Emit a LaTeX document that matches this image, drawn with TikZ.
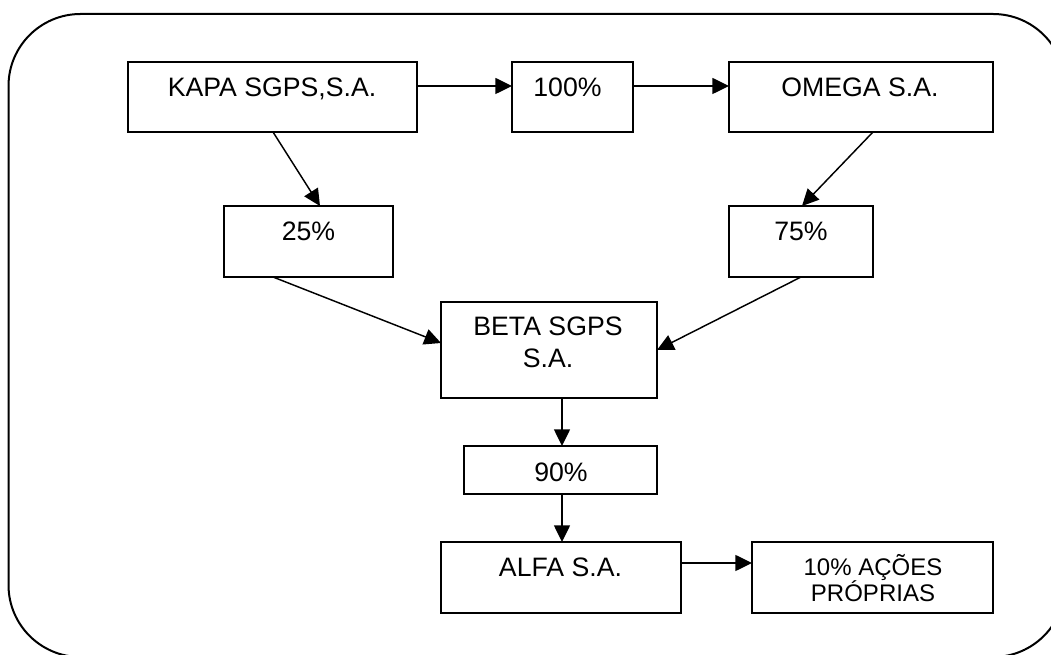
\documentclass[tikz,border=0pt]{standalone}
\usepackage{fontspec}
\setmainfont{Liberation Sans}
\usetikzlibrary{arrows.meta,calc}
\begin{document}
\begin{tikzpicture}[x=0.75pt,y=-0.75pt,
  box/.style={draw,line width=1.4pt,inner sep=0pt,outer sep=0pt},
  lbl/.style={anchor=base,inner sep=0pt,font=\fontsize{20}{24}\selectfont,align=center},
  slbl/.style={anchor=base,inner sep=0pt,font=\fontsize{18}{20}\selectfont,align=center},
  arr/.style={line width=1.1pt,-{Triangle[length=12.5pt,width=12pt]}},
  frame/.style={draw,line width=1.5pt,rounded corners=54pt}]
\useasboundingbox (0,0) rectangle (1051,655);
\begin{scope}
\clip (0,0) rectangle (1051,655);
\path[frame] (8.5,14) rectangle (1065,657);
\end{scope}
% boxes
\node[box,minimum width=216.75pt,minimum height=52.5pt] (kapa) at (272.5,97) {};
\node[box,minimum width=90.75pt,minimum height=52.5pt] (p100) at (572.5,97) {};
\node[box,minimum width=198pt,minimum height=52.5pt] (omega) at (861,97) {};
\node[box,minimum width=126.75pt,minimum height=53.25pt] (p25) at (308.5,241.5) {};
\node[box,minimum width=108pt,minimum height=53.25pt] (p75) at (801,241.5) {};
\node[box,minimum width=162pt,minimum height=72pt] (beta) at (549,350) {};
\node[box,minimum width=144.75pt,minimum height=36pt] (p90) at (560.5,470) {};
\node[box,minimum width=180pt,minimum height=53.25pt] (alfa) at (561,577.5) {};
\node[box,minimum width=180.75pt,minimum height=53.25pt] (acoes) at (872.5,577.5) {};
% texts
\node[lbl] (kapaT) at (272,97) {KAPA SGPS,S.A.};
\node[lbl] (p100T) at (567.5,97) {100\%};
\node[lbl] (omegaT) at (860,97) {OMEGA S.A.};
\node[lbl] (p25T) at (308.5,241) {25\%};
\node[lbl] (p75T) at (801,241) {75\%};
\node[lbl] (betaT) at (548,368) {BETA SGPS\\S.A.};
\node[lbl] (p90T) at (561,482) {90\%};
\node[lbl] (alfaT) at (560.5,577) {ALFA S.A.};
\node[slbl] (acoesT) at (873,602) {10\% AÇÕES\\PRÓPRIAS};
% connectors
\draw[arr] ($(kapa.north east)+(0,24)$) -- ($(p100.north west)+(0,24)$);
\draw[arr] ($(p100.north east)+(0,24)$) -- ($(omega.north west)+(0,24)$);
\draw[arr] ($(kapa.south west)+(145,0)$) -- ($(p25.north west)+(96,0)$);
\draw[arr] ($(omega.south west)+(144,0)$) -- ($(p75.north west)+(73,0)$);
\draw[arr] ($(p25.south west)+(49,0)$) -- ($(beta.north west)+(0,41)$);
\draw[arr] ($(p75.south west)+(72,0)$) -- ($(beta.north east)+(0,48)$);
\draw[arr] ($(beta.south west)+(121,0)$) -- ($(p90.north west)+(98,0)$);
\draw[arr] ($(p90.south west)+(98,0)$) -- ($(alfa.north west)+(121,0)$);
\draw[arr] ($(alfa.north east)+(0,21)$) -- ($(acoes.north west)+(0,21)$);
\end{tikzpicture}
\end{document}
